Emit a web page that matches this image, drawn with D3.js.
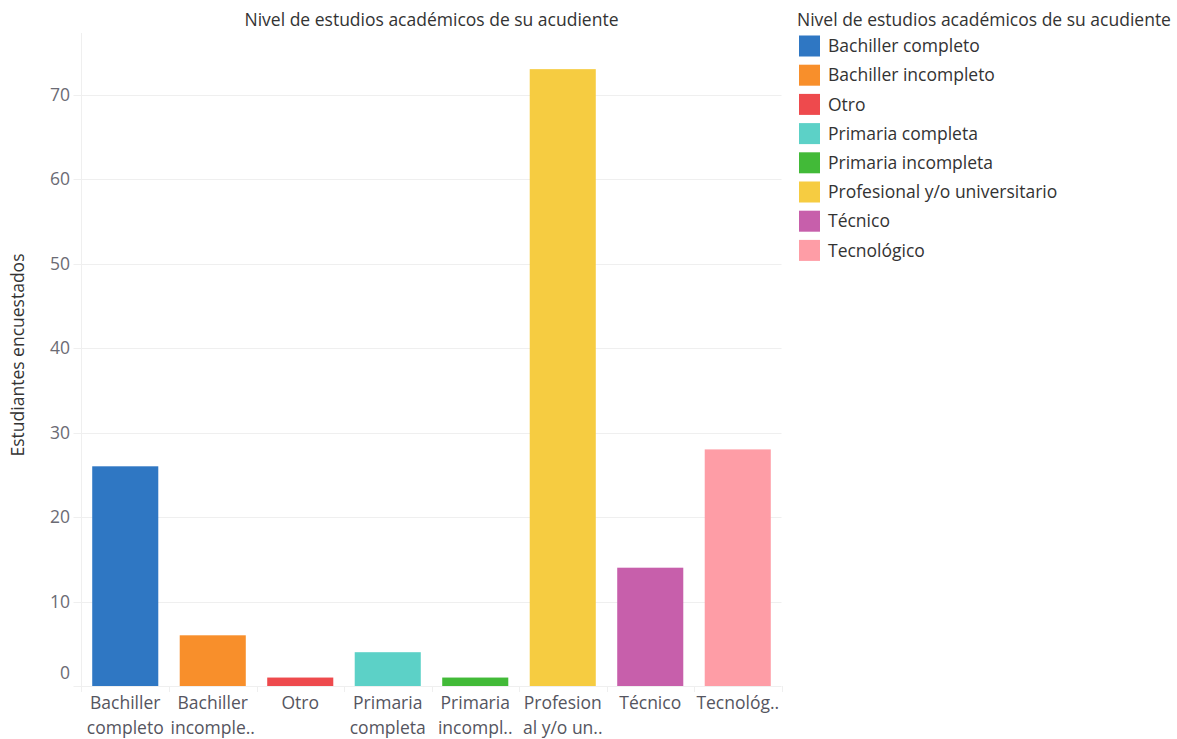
<!DOCTYPE html>
<html>
<head>
<meta charset="utf-8">
<script src="https://cdn.jsdelivr.net/npm/d3@7"></script>
<style>
  html, body { margin: 0; padding: 0; background: #fff; }
  svg { display: block; font-family: "Open Sans", "Noto Sans", sans-serif; }
</style>
</head>
<body>
<svg id="chart" width="1177" height="739"></svg>
<script>
// Education level of the student's guardian, count of surveyed students
const categories = [
  "Bachiller completo",
  "Bachiller incompleto",
  "Otro",
  "Primaria completa",
  "Primaria incompleta",
  "Profesional y/o universitario",
  "Técnico",
  "Tecnológico"
];
const counts = [26, 6, 1, 4, 1, 73, 14, 28];
const colors = ["#2f77c3", "#f88f2b", "#ee4a4d", "#5cd1c7", "#42ba38", "#f6cc41", "#c75fab", "#fe9da6"];
// Axis labels as they appear under each bar (wrapped / truncated)
const tickLabels = [
  ["Bachiller", "completo"],
  ["Bachiller", "incomple.."],
  ["Otro"],
  ["Primaria", "completa"],
  ["Primaria", "incompl.."],
  ["Profesion", "al y/o un.."],
  ["Técnico"],
  ["Tecnológ.."]
];
const yTicks = [0, 10, 20, 30, 40, 50, 60, 70];
const chartTitle = "Nivel de estudios académicos de su acudiente";
const yTitle = "Estudiantes encuestados";

const FS = 17.5;
const svg = d3.select("#chart");
const plot = { left: 81.5, right: 781.5, top: 33, bottom: 686 };

const x = d3.scaleBand()
  .domain(categories)
  .range([plot.left, plot.right])
  .paddingInner(0.245)
  .paddingOuter(0.1225);

const y = d3.scaleLinear()
  .domain([0, 70])
  .range([plot.bottom, plot.bottom - 7 * 84.5]);

const grid = "#efefef";

// Horizontal gridlines (with a short tick left of the axis)
svg.append("g").selectAll("line")
  .data(yTicks)
  .join("line")
  .attr("x1", plot.left - 8)
  .attr("x2", plot.right)
  .attr("y1", d => Math.round(y(d)) + 0.5)
  .attr("y2", d => Math.round(y(d)) + 0.5)
  .attr("stroke", grid)
  .attr("stroke-width", 1);

// Vertical axis line
svg.append("line")
  .attr("x1", plot.left).attr("x2", plot.left)
  .attr("y1", plot.top).attr("y2", plot.bottom + 6)
  .attr("stroke", grid);

// Separators between categories on the x axis
svg.append("g").selectAll("line")
  .data(categories)
  .join("line")
  .attr("x1", (d, i) => Math.round(plot.left + (i + 1) * x.step()) + 0.5)
  .attr("x2", (d, i) => Math.round(plot.left + (i + 1) * x.step()) + 0.5)
  .attr("y1", plot.bottom)
  .attr("y2", plot.bottom + 6)
  .attr("stroke", grid);

// Y tick labels (zero sits on top of the baseline)
svg.append("g").selectAll("text")
  .data(yTicks)
  .join("text")
  .attr("x", 70)
  .attr("y", d => d === 0 ? y(d) - 13 : y(d))
  .attr("dy", "0.35em")
  .attr("text-anchor", "end")
  .attr("font-size", FS)
  .attr("fill", "#6b6b74")
  .text(d => d);

// Bars
svg.append("g").selectAll("rect")
  .data(categories)
  .join("rect")
  .attr("x", d => x(d))
  .attr("width", x.bandwidth())
  .attr("y", (d, i) => y(counts[i]))
  .attr("height", (d, i) => y(0) - y(counts[i]))
  .attr("fill", (d, i) => colors[i]);

// X tick labels
const xl = svg.append("g").selectAll("text")
  .data(categories)
  .join("text")
  .attr("x", d => x(d) + x.bandwidth() / 2)
  .attr("y", 703)
  .attr("text-anchor", "middle")
  .attr("font-size", FS)
  .attr("fill", "#555560");
xl.selectAll("tspan")
  .data((d, i) => tickLabels[i])
  .join("tspan")
  .attr("x", function () { return this.parentNode.getAttribute("x"); })
  .attr("dy", (d, j) => j === 0 ? "0.35em" : 25)
  .text(d => d);

// Chart title
svg.append("text")
  .attr("x", (plot.left + plot.right) / 2)
  .attr("y", 20)
  .attr("dy", "0.35em")
  .attr("text-anchor", "middle")
  .attr("font-size", FS)
  .attr("fill", "#333")
  .text(chartTitle);

// Y axis title
svg.append("text")
  .attr("transform", "translate(18,355) rotate(-90)")
  .attr("dy", "0.35em")
  .attr("text-anchor", "middle")
  .attr("font-size", FS)
  .attr("fill", "#333")
  .text(yTitle);

// Legend
const legend = svg.append("g").attr("transform", "translate(797,0)");
legend.append("text")
  .attr("x", 0)
  .attr("y", 20)
  .attr("dy", "0.35em")
  .attr("font-size", FS)
  .attr("fill", "#333")
  .text(chartTitle);
const item = legend.selectAll("g.item")
  .data(categories)
  .join("g")
  .attr("class", "item")
  .attr("transform", (d, i) => `translate(0,${46 + i * 29.2})`);
item.append("rect")
  .attr("x", 2).attr("y", -10.5)
  .attr("width", 21).attr("height", 21)
  .attr("fill", (d, i) => colors[i]);
item.append("text")
  .attr("x", 31)
  .attr("dy", "0.35em")
  .attr("font-size", FS)
  .attr("fill", "#333")
  .text(d => d);
</script>
</body>
</html>
